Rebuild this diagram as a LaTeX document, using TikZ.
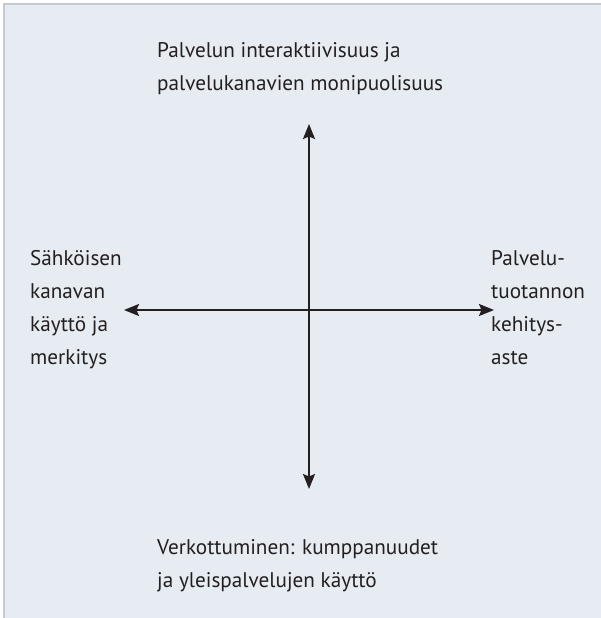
\documentclass[tikz,border=0pt]{standalone}
\usepackage{fontspec}
\setmainfont{PT Sans}
\usetikzlibrary{positioning,arrows.meta}
\definecolor{panelfill}{HTML}{E6ECF2}
\definecolor{panelline}{HTML}{C6CBD0}
\definecolor{inktext}{HTML}{231F20}
\tikzset{
  axistip/.tip = {Stealth[length=15pt, width=12pt, inset=2.5pt]},
  axislabel/.style = {inner sep=0pt, align=left, text=inktext, font=\fontsize{21.2}{33}\selectfont},
  axisline/.style = {line width=1.6pt, color=inktext, axistip-axistip}
}

\begin{document}
\begin{tikzpicture}[x=1pt, y=-1pt]
        \useasboundingbox (0, 0) rectangle (601, 618);
        \fill[panelfill] (4, 4) rectangle (601, 618);
        \draw[panelline, line width=1.5pt] (4, 618) -- (4, 4) -- (601, 4);

        \coordinate (upEnd) at (309, 124);
        \coordinate (downEnd) at (309, 489);
        \coordinate (leftEnd) at (124, 310);
        \coordinate (rightEnd) at (494, 310);

        \node[axislabel, anchor = base west] (interNode) at (157, 90) {Palvelun interaktiivisuus ja\\palvelukanavien monipuolisuus};
        \node[axislabel, anchor = base west] (netNode) at (157, 587) {Verkottuminen: kumppanuudet\\ja yleispalvelujen käyttö};
        \node[axislabel, anchor = base west] (useNode) at (30, 364) {Sähköisen\\kanavan\\käyttö ja\\merkitys};
        \node[axislabel, anchor = base west] (prodNode) at (491, 364) {Palvelu-\\tuotannon\\kehitys-\\aste};

        \draw[axisline] (downEnd) -- (upEnd);
        \draw[axisline] (leftEnd) -- (rightEnd);
      \end{tikzpicture}
\end{document}
